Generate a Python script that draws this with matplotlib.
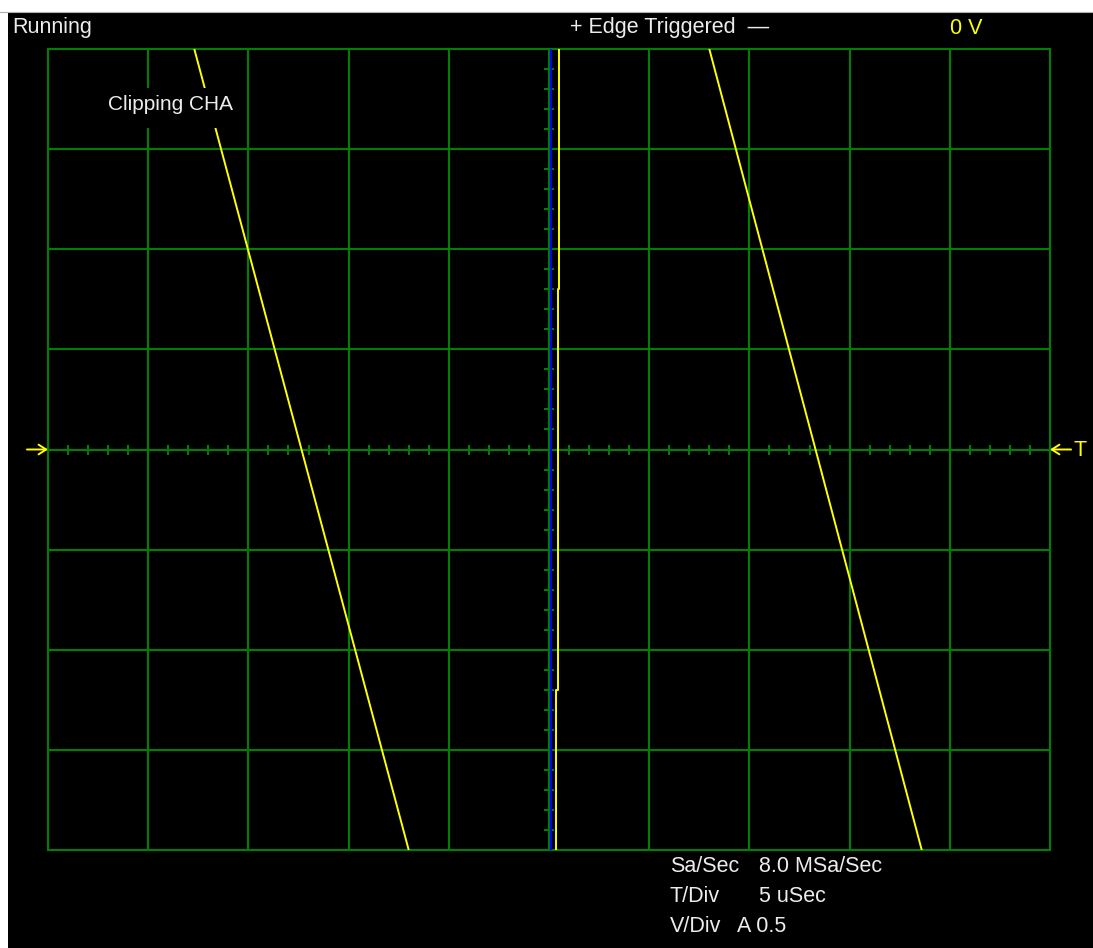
import matplotlib.pyplot as plt
from matplotlib.patches import Rectangle

# scope settings: 5 us/div over 10 divs, 0.5 V/div over 8 divs
t_min, t_max = -25.0, 25.0
v_min, v_max = -2.0, 2.0
t_major = [-25, -20, -15, -10, -5, 0, 5, 10, 15, 20, 25]
v_major = [-2.0, -1.5, -1.0, -0.5, 0.0, 0.5, 1.0, 1.5, 2.0]

# channel A trace (us, V) - two falling ramps of the clipped signal
ramp1_t = [-17.7, -7.0]
ramp1_v = [2.0, -2.0]
ramp2_t = [8.0, 18.6]
ramp2_v = [2.0, -2.0]
# near-vertical edge at trigger point
edge_t = [0.34, 0.34, 0.44, 0.44, 0.52, 0.52]
edge_v = [-2.0, -1.2, -1.2, 0.8, 0.8, 2.0]
# channel B (blue) trace
chb_t = [0.12, 0.12]
chb_v = [-2.0, 2.0]

trigger_level = 0.0

GREEN = "#008000"
YELLOW = "#ffff00"
TXT = "#ececec"
W, H = 1093, 948

plt.rcParams["font.family"] = ["Liberation Sans", "DejaVu Sans"]

fig = plt.figure(figsize=(W / 100, H / 100), dpi=100)
fig.patch.set_facecolor("white")
fig.add_artist(Rectangle((8 / W, 0), 1, 1 - 13 / H, transform=fig.transFigure,
                         facecolor="black", edgecolor="none", zorder=-5))
fig.add_artist(plt.Line2D([0, 1], [1 - 11.5 / H] * 2, transform=fig.transFigure,
                          color="#b0b0b0", lw=0.8, zorder=-4))

ax = fig.add_axes([48 / W, (H - 850) / H, 1002 / W, 801 / H])
ax.set_facecolor("black")
ax.set_xlim(t_min, t_max)
ax.set_ylim(v_min, v_max)
for s in ax.spines.values():
    s.set_visible(False)
ax.set_xticks([])
ax.set_yticks([])

# graticule
for t in t_major:
    ax.axvline(t, color=GREEN, lw=1.5, zorder=1, clip_on=False)
for v in v_major:
    ax.axhline(v, color=GREEN, lw=1.5, zorder=1, clip_on=False)

# minor ticks on the centre lines
minor_t = [x for x in range(-24, 25) if x % 5 != 0]
minor_v = [round(k * 0.1, 1) for k in range(-19, 20) if k % 5 != 0]
ax.plot(minor_t, [0] * len(minor_t), ls="none", marker="|", ms=6.5, mew=1.5,
        color=GREEN, zorder=1)
ax.plot([0] * len(minor_v), minor_v, ls="none", marker="_", ms=7, mew=1.5,
        color=GREEN, zorder=1)

# traces
ax.plot(chb_t, chb_v, color="#0000ff", lw=1.6, zorder=2)
ax.plot(ramp1_t, ramp1_v, color=YELLOW, lw=1.4, zorder=3)
ax.plot(ramp2_t, ramp2_v, color=YELLOW, lw=1.4, zorder=3)
ax.plot(edge_t, edge_v, color=YELLOW, lw=1.4, zorder=3)

# trigger level markers
arrow = dict(arrowstyle="->,head_length=0.55,head_width=0.35", color=YELLOW,
             lw=1.4, shrinkA=0, shrinkB=0, mutation_scale=10)
ax.annotate("", xy=(t_min, trigger_level), xytext=(t_min - 1.05, trigger_level),
            arrowprops=arrow, annotation_clip=False)
ax.annotate("", xy=(t_max, trigger_level), xytext=(t_max + 1.05, trigger_level),
            arrowprops=arrow, annotation_clip=False)
fig.text(1074 / W, 1 - 450 / H, "T", color=YELLOW, fontsize=15.5, va="center")


def px_text(x, y, s, **kw):
    kw.setdefault("color", TXT)
    kw.setdefault("fontsize", 15.5)
    return fig.text(x / W, 1 - y / H, s, va="center", **kw)


px_text(12, 28, "Running")
px_text(570, 28, "+ Edge Triggered  \u2014")
px_text(950, 28, "0 V", color=YELLOW)

# black label box that cuts the graticule and trace
fig.add_artist(Rectangle((100 / W, 1 - 128 / H), 140 / W, 40 / H,
                         transform=fig.transFigure, facecolor="black",
                         edgecolor="none", zorder=2))
px_text(108, 105, "Clipping CHA", fontsize=15, zorder=3)

px_text(670, 867, "Sa/Sec")
px_text(759, 867, "8.0 MSa/Sec")
px_text(670, 897, "T/Div")
px_text(759, 897, "5 uSec")
px_text(670, 927, "V/Div")
px_text(737, 927, "A 0.5")

fig.savefig("out.png", dpi=100, facecolor=fig.get_facecolor())
